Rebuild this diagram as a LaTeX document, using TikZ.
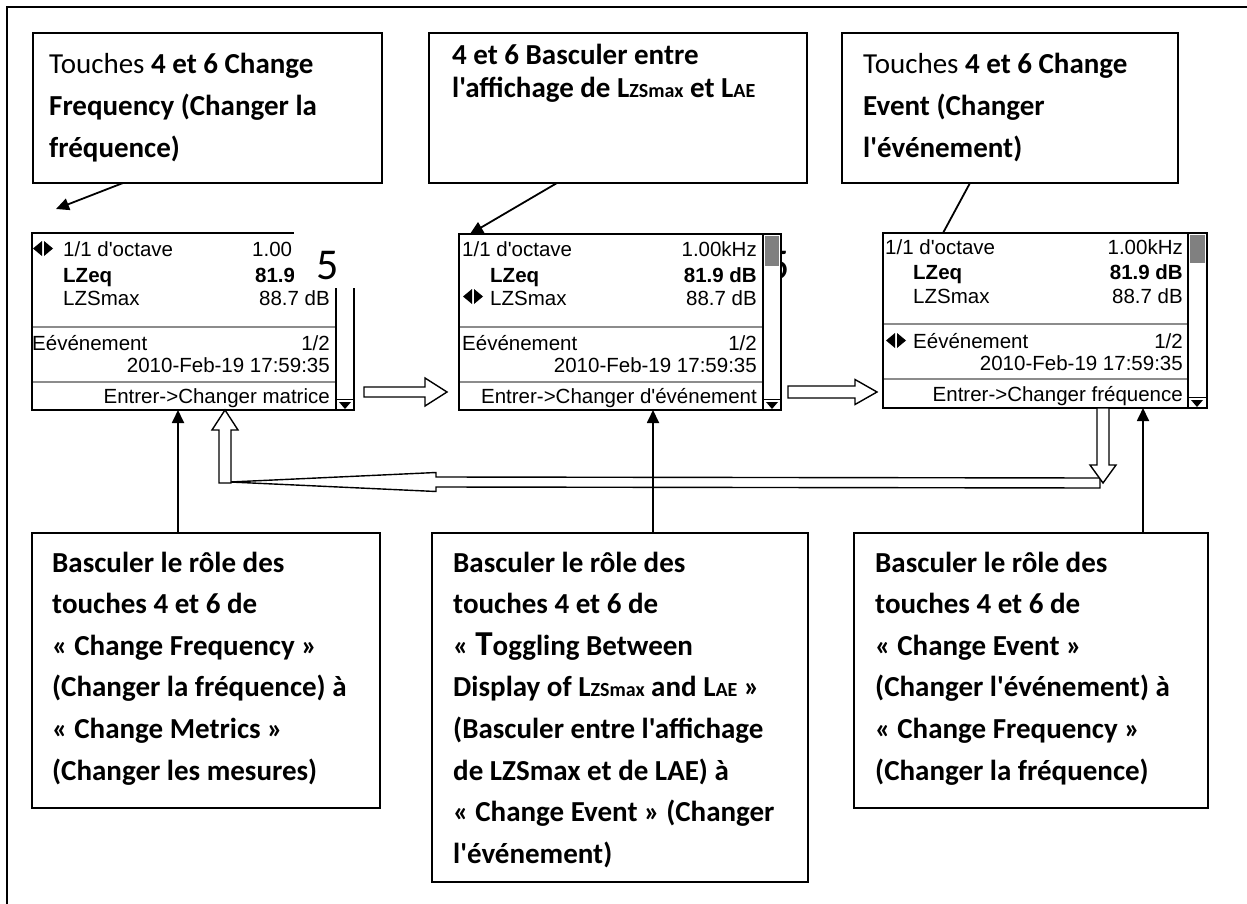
\documentclass[tikz,border=0pt]{standalone}
\usepackage{fontspec}
\newfontfamily\calfont{Carlito}
\newfontfamily\scrfont{Liberation Sans}
\usetikzlibrary{arrows.meta,calc}
\newcommand\smc[1]{{\fontsize{20}{20}\selectfont #1}}
\newcommand\lricon{\fill (0,7.5) -- (9,0) -- (9,15) -- cycle; \fill (11,0) -- (11,15) -- (20,7.5) -- cycle;}
\tikzset{
  callout/.style={draw, line width=1.8pt, fill=white, anchor=north west, inner sep=0pt, outer sep=0pt},
  ctext/.style={anchor=base west, inner sep=0pt, font=\calfont\fontsize{29}{41.6}\selectfont},
  screen/.style={draw, line width=1.3pt, fill=white, anchor=north west, inner sep=0pt, outer sep=0pt, minimum width=322pt, minimum height=177pt},
  st/.style={inner sep=0pt, font=\scrfont\fontsize{20.5}{20.5}\selectfont},
  stl/.style={st, anchor=base west},
  str/.style={st, anchor=base east},
  sepline/.style={draw=black!45, line width=1.2pt},
  ptr/.style={line width=1.8pt, -{Triangle[length=13pt,width=12pt]}},
  lead/.style={line width=1.8pt},
  hollow/.style={draw, line width=1.4pt, fill=white, line join=miter},
  five/.style={inner sep=0pt, font=\calfont\fontsize{44}{44}\selectfont},
}
\begin{document}
\begin{tikzpicture}[x=1pt, y=-1pt]
\useasboundingbox (0,0) rectangle (1247,904);
% outer frame
\draw[line width=2pt] (7,904) -- (7,7) -- (1247,7);

% ---------- top callouts ----------
\node[callout, minimum width=349pt, minimum height=150pt] (a1) at (33,33) {};
\node[callout, minimum width=378pt, minimum height=150pt] (a2) at (429,33) {};
\node[callout, minimum width=336pt, minimum height=150pt] (a3) at (842,33) {};
\node[ctext] (a1t) at (49,74) {\parbox[t]{330pt}{\raggedright Touches \textbf{4 et 6 Change}\\ \textbf{Frequency (Changer la}\\ \textbf{fréquence)}}};
\node[ctext, font=\calfont\fontsize{29}{33}\selectfont] (a2t) at (452,65) {\parbox[t]{350pt}{\raggedright\bfseries 4 et 6 Basculer entre\\ l'affichage de L\smc{ZSmax} et L\smc{AE}}};
\node[ctext] (a3t) at (863,74) {\parbox[t]{310pt}{\raggedright Touches \textbf{4 et 6 Change}\\ \textbf{Event (Changer}\\ \textbf{l'événement)}}};

% ---------- bottom callouts ----------
\node[callout, minimum width=348pt, minimum height=275pt] (c1) at (32,533) {};
\node[callout, minimum width=376pt, minimum height=349pt] (c2) at (432,533) {};
\node[callout, minimum width=354pt, minimum height=275pt] (c3) at (854,533) {};
\node[ctext] (c1t) at (52,572) {\parbox[t]{320pt}{\raggedright\bfseries Basculer le rôle des\\ touches 4 et 6 de\\ « Change Frequency »\\ (Changer la fréquence) à\\ « Change Metrics »\\ (Changer les mesures)}};
\node[ctext] (c2t) at (453,572) {\parbox[t]{350pt}{\raggedright\bfseries Basculer le rôle des\\ touches 4 et 6 de\\ « {\fontsize{35}{35}\selectfont T}oggling Between\\ Display of L\smc{ZSmax} and L\smc{AE} »\\ (Basculer entre l'affichage\\ de LZSmax et de LAE) à\\ « Change Event » (Changer\\ l'événement)}};
\node[ctext] (c3t) at (875,572) {\parbox[t]{330pt}{\raggedright\bfseries Basculer le rôle des\\ touches 4 et 6 de\\ « Change Event »\\ (Changer l'événement) à\\ « Change Frequency »\\ (Changer la fréquence)}};

% ---------- screen 1 ----------
\node[screen] (s1) at (32,233) {};
\begin{scope}[shift={(s1.north west)}]
  \draw[sepline] (1,94) -- (304,94);
  \draw[sepline] (1,149) -- (304,149);
  \draw[line width=1.1pt] (304,0) -- (304,177);
  \fill[black!50] (306,2) rectangle (320,32);
  \draw[line width=1pt] (304,166) -- (322,166);
  \fill (307,169) -- (319,169) -- (313,176) -- cycle;
  \begin{scope}[shift={(1,8)}]\lricon\end{scope}
  \node[stl] (s1a) at (31,23) {1/1 d'octave};
  \node[stl] (s1b) at (220,23) {1.00};
  \node[stl] (s1c) at (31,49) {\bfseries LZeq};
  \node[stl] (s1d) at (223,49) {\bfseries 81.9};
  \node[stl] (s1e) at (31,72) {LZSmax};
  \node[str] (s1f) at (298,72) {88.7 dB};
  \node[stl] (s1g) at (0,117) {Eévénement};
  \node[str] (s1h) at (298,117) {1/2};
  \node[str] (s1i) at (298,139) {2010-Feb-19 17:59:35};
  \node[str] (s1j) at (298,170) {Entrer->Changer matrice};
\end{scope}
\fill[white] (294,229) rectangle (358,288);
\node[five] (five1) at (327.5,266) {5};

% ---------- screen 2 ----------
\node[five] (five2) at (778.5,266) {5};
\node[screen, minimum height=176pt] (s2) at (459,234) {};
\begin{scope}[shift={(s2.north west)}]
  \draw[sepline] (1,93) -- (304,93);
  \draw[sepline] (1,148) -- (304,148);
  \draw[line width=1.1pt] (304,0) -- (304,176);
  \fill[black!50] (306,2) rectangle (320,32);
  \draw[line width=1pt] (304,165) -- (322,165);
  \fill (307,168) -- (319,168) -- (313,175) -- cycle;
  \begin{scope}[shift={(4,55)}]\lricon\end{scope}
  \node[stl] (s2a) at (3,22) {1/1 d'octave};
  \node[str] (s2b) at (298,22) {1.00kHz};
  \node[stl] (s2c) at (31,48) {\bfseries LZeq};
  \node[str] (s2d) at (298,48) {\bfseries 81.9 dB};
  \node[stl] (s2e) at (31,71) {LZSmax};
  \node[str] (s2f) at (298,71) {88.7 dB};
  \node[stl] (s2g) at (3,116) {Eévénement};
  \node[str] (s2h) at (298,116) {1/2};
  \node[str] (s2i) at (298,138) {2010-Feb-19 17:59:35};
  \node[str] (s2j) at (298,169) {Entrer->Changer d'événement};
\end{scope}

% ---------- screen 3 ----------
\node[screen, minimum width=324pt, minimum height=175pt] (s3) at (883,233) {};
\begin{scope}[shift={(s3.north west)}]
  \draw[sepline] (1,91) -- (305,91);
  \draw[sepline] (1,146) -- (305,146);
  \draw[line width=1.1pt] (305,0) -- (305,175);
  \fill[black!50] (307,2) rectangle (322,30);
  \draw[line width=1pt] (305,164) -- (324,164);
  \fill (308,167) -- (320,167) -- (314,174) -- cycle;
  \begin{scope}[shift={(3,100)}]\lricon\end{scope}
  \node[stl] (s3a) at (2,21) {1/1 d'octave};
  \node[str] (s3b) at (300,21) {1.00kHz};
  \node[stl] (s3c) at (30,46) {\bfseries LZeq};
  \node[str] (s3d) at (300,46) {\bfseries 81.9 dB};
  \node[stl] (s3e) at (30,70) {LZSmax};
  \node[str] (s3f) at (300,70) {88.7 dB};
  \node[stl] (s3g) at (30,115) {Eévénement};
  \node[str] (s3h) at (300,115) {1/2};
  \node[str] (s3i) at (300,137) {2010-Feb-19 17:59:35};
  \node[str] (s3j) at (300,168) {Entrer->Changer fréquence};
\end{scope}

% ---------- leader lines from top callouts ----------
\coordinate (t1) at ($(s1.north west)+(24,-24)$);
\draw[ptr] ($(a1.south west)+(90,0)$) -- (t1);
\draw[ptr] ($(a2.south west)+(128,0)$) -- ($(s2.north west)+(11,0)$);
\draw[lead] ($(a3.south west)+(128,0)$) -- ($(s3.north west)+(60,0)$);

% ---------- hollow block arrows ----------
\coordinate (h1s) at ($(s1.south east)+(10,-18)$);
\coordinate (h1t) at ($(s2.south west)+(-12,-18)$);
\draw[hollow] ($(h1s)+(0,-5)$) -- ($(h1t)+(-22,-5)$) -- ($(h1t)+(-22,-14)$) -- (h1t) -- ($(h1t)+(-22,14)$) -- ($(h1t)+(-22,5)$) -- ($(h1s)+(0,5)$) -- cycle;

\coordinate (h2s) at ($(s2.south east)+(7,-18)$);
\coordinate (h2t) at ($(s3.south west)+(-6,-16)$);
\draw[hollow] ($(h2s)+(0,-6)$) -- ($(h2t)+(-22,-6)$) -- ($(h2t)+(-22,-12.5)$) -- (h2t) -- ($(h2t)+(-22,12.5)$) -- ($(h2t)+(-22,6)$) -- ($(h2s)+(0,6)$) -- cycle;

\coordinate (h3s) at ($(s3.south west)+(220,0)$);
\coordinate (h3t) at ($(s3.south west)+(220,75)$);
\coordinate (h5t) at ($(s1.south west)+(193,0)$);
\coordinate (h5b) at ($(s1.south west)+(193,73)$);
\coordinate (h4s) at ($(h3t)+(-3,0)$);
\coordinate (h4t) at ($(h5b)+(5,-1)$);

\draw[hollow] ($(h4s)+(0,-5)$) -- ($(h4t)+(206,-5)$) -- ($(h4t)+(206,-9.5)$) -- (h4t) -- ($(h4t)+(206,9.5)$) -- ($(h4t)+(206,5)$) -- ($(h4s)+(0,5)$) -- cycle;
\draw[hollow] ($(h3s)+(-6,0)$) -- ($(h3t)+(-6,-18)$) -- ($(h3t)+(-13,-18)$) -- (h3t) -- ($(h3t)+(13,-18)$) -- ($(h3t)+(6,-18)$) -- ($(h3s)+(6,0)$) -- cycle;
\draw[hollow] ($(h5b)+(-6,0)$) -- ($(h5t)+(-6,20)$) -- ($(h5t)+(-13,20)$) -- (h5t) -- ($(h5t)+(13,20)$) -- ($(h5t)+(6,20)$) -- ($(h5b)+(6,0)$) -- cycle;

% ---------- pointers from bottom callouts ----------
\coordinate (b1s) at ($(c1.north west)+(146,0)$);
\coordinate (b2s) at ($(c2.north west)+(221,0)$);
\coordinate (b3s) at ($(c3.north west)+(289,0)$);
\draw[ptr] (b1s) -- (b1s |- s1.south);
\draw[ptr] (b2s) -- (b2s |- s2.south);
\draw[ptr] (b3s) -- (b3s |- s3.south);
\end{tikzpicture}
\end{document}
